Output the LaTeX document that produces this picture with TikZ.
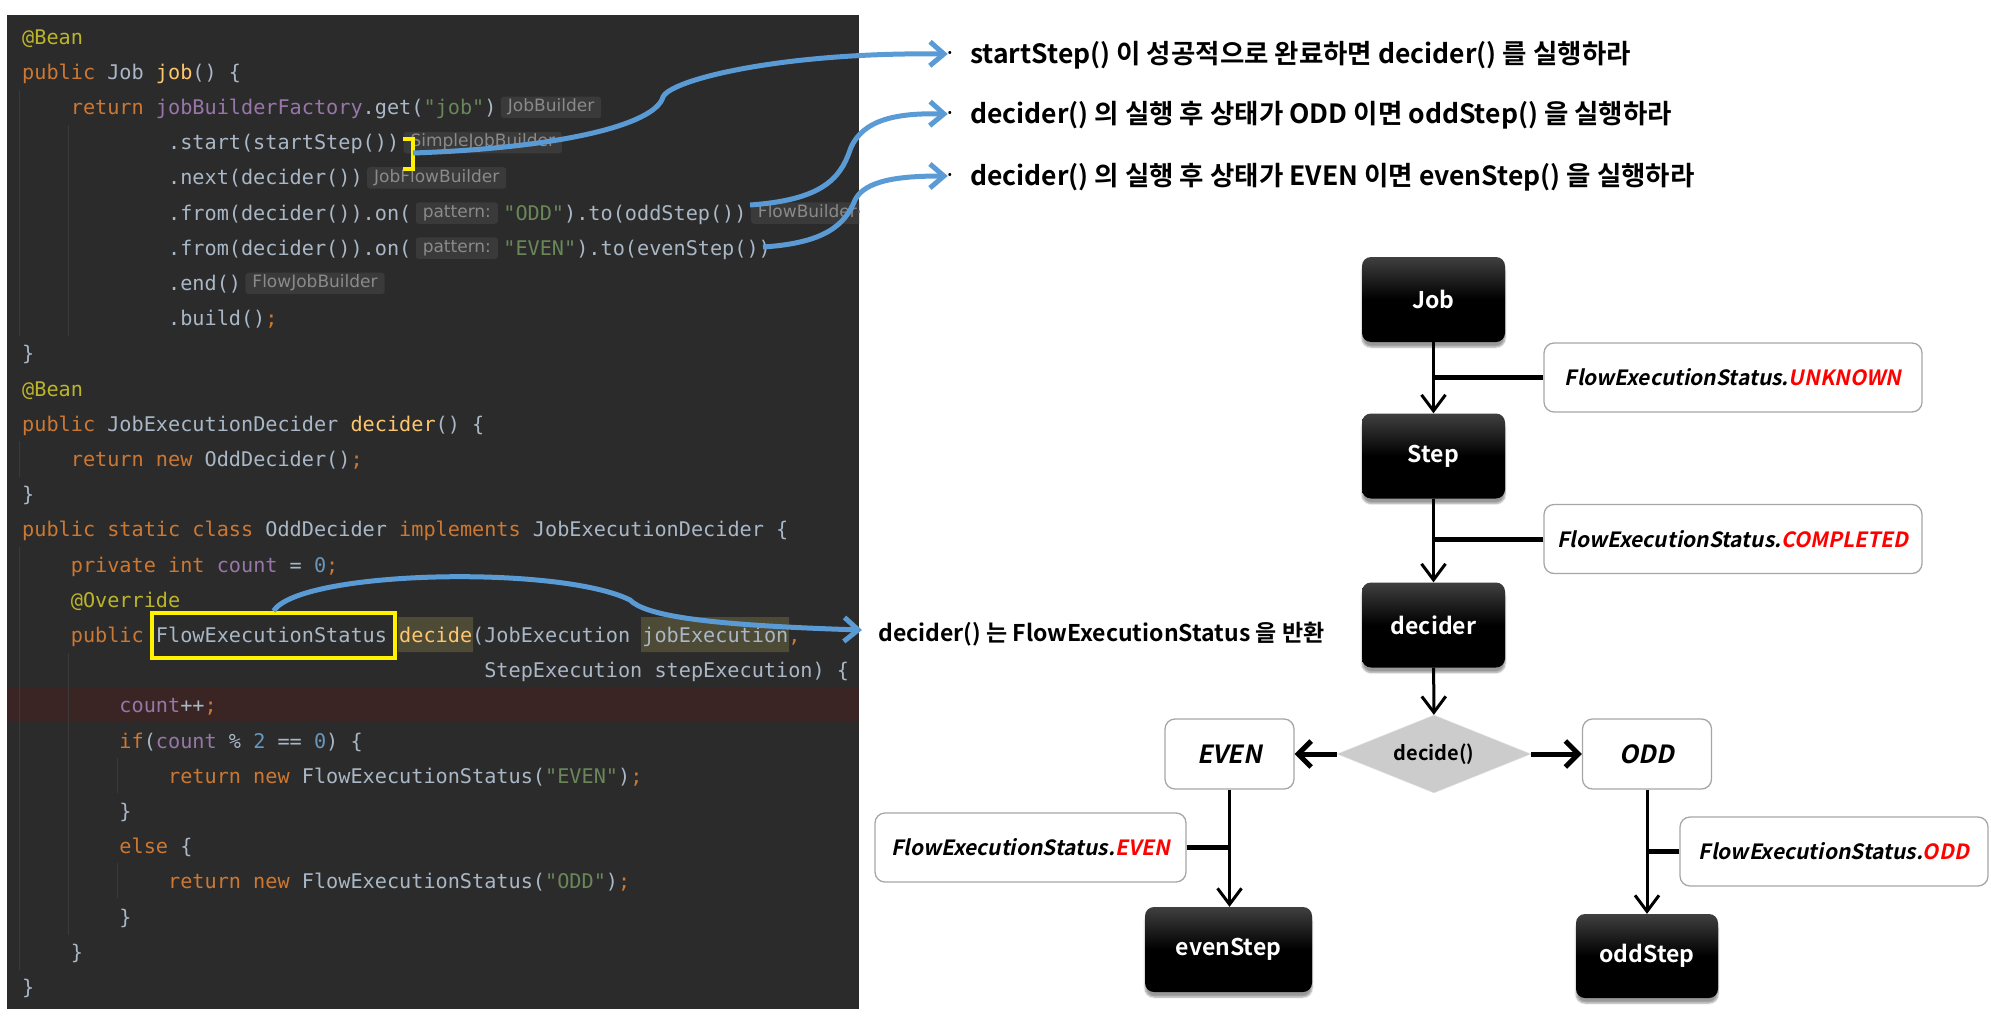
\documentclass[tikz,border=0pt]{standalone}
\usepackage{fontspec}
\usetikzlibrary{arrows.meta,calc,shapes.geometric,shadows.blur}
\newfontfamily\codefont{DejaVu Sans Mono}
\newfontfamily\hintfont{DejaVu Sans}
\newfontfamily\krfont[BoldFont={* Bold}]{Noto Sans CJK KR}
\newfontfamily\krslant[FakeSlant=0.2]{Noto Sans CJK KR Bold}
\definecolor{panelbg}{HTML}{2B2B2B}
\definecolor{plain}{HTML}{A9B7C6}
\definecolor{kwc}{HTML}{CC7832}
\definecolor{annc}{HTML}{BBB529}
\definecolor{fnc}{HTML}{FFC66D}
\definecolor{fldc}{HTML}{9876AA}
\definecolor{strc}{HTML}{6A8759}
\definecolor{numc}{HTML}{6897BB}
\definecolor{hintbg}{HTML}{3A3A3A}
\definecolor{hinttx}{HTML}{8A8A8A}
\definecolor{errbg}{HTML}{3A2424}
\definecolor{usebg}{HTML}{4D4A35}
\definecolor{guide}{HTML}{3A3A3A}
\definecolor{linkblue}{HTML}{5B9BD5}
\definecolor{boxline}{HTML}{A6A6A6}
\newcommand{\jkw}[1]{\textcolor{kwc}{#1}}
\newcommand{\jann}[1]{\textcolor{annc}{#1}}
\newcommand{\jfn}[1]{\textcolor{fnc}{#1}}
\newcommand{\jfld}[1]{\textcolor{fldc}{#1}}
\newcommand{\jstr}[1]{\textcolor{strc}{#1}}
\newcommand{\jnum}[1]{\textcolor{numc}{#1}}
% one line of code: name, row, column, text
\newcommand{\codeln}[4]{\node[code] (#1) at ({22+#3*12.16},{44+35.2*(#2-1)}) {#4};}
\begin{document}
\begin{tikzpicture}[x=1pt,y=-1pt,
  code/.style={anchor=base west, inner sep=0pt, text=plain, font=\codefont\fontsize{20.2}{24}\selectfont},
  hint/.style={anchor=west, fill=hintbg, rounded corners=3pt, text=hinttx, font=\hintfont\fontsize{17}{19}\selectfont, inner xsep=7pt, inner ysep=3pt, text height=12pt, text depth=3.5pt},
  blackbox/.style={rounded corners=9pt, top color=black!75, bottom color=black, middle color=black, text=white, minimum width=143pt, minimum height=85pt, font=\krfont\bfseries\fontsize{23}{27}\selectfont, blur shadow={shadow xshift=0pt, shadow yshift=-5pt, shadow blur steps=6}},
  lbl/.style={draw=boxline, line width=1.3pt, fill=white, rounded corners=10pt, minimum width=378pt, minimum height=69pt, font=\krslant\fontsize{21}{25}\selectfont},
  choice/.style={draw=boxline, line width=1.3pt, fill=white, rounded corners=10pt, minimum width=129pt, minimum height=70pt, font=\krslant\fontsize{25}{29}\selectfont},
  decshape/.style={diamond, aspect=2.5, inner sep=0pt, minimum width=194pt, minimum height=78pt, fill=black!20, draw=black!10, font=\krfont\bfseries\fontsize{20}{24}\selectfont},
  ktext/.style={anchor=west, inner sep=0pt, font=\krfont\bfseries\fontsize{26.5}{30}\selectfont},
  bul/.style={inner sep=0pt, font=\krfont\fontsize{12}{14}\selectfont},
  farrow/.style={line width=3pt, -{Straight Barb[length=16pt,width=24pt]}},
  harrow/.style={line width=5pt, -{Straight Barb[length=13pt,width=26pt]}},
  stub/.style={line width=5pt},
  blink/.style={draw=linkblue, line width=5pt, -{Straight Barb[length=14pt,width=24pt]}},
  ymark/.style={draw=yellow, line width=4pt}]
\useasboundingbox (0,0) rectangle (1991,1028);

% code panel
\fill[panelbg] (7,15) rectangle (859,1009);
\begin{scope}
  \clip (7,15) rectangle (859,1009);
  \fill[errbg] (7,688) rectangle (859,722);
  \fill[usebg] (398,617) rectangle (473,652) (641,617) rectangle (789,652);
  \draw[guide, line width=1pt] (19.5,90) -- (19.5,336) (68,125) -- (68,336)
    (19.5,441) -- (19.5,477) (19.5,547) -- (19.5,970) (68,653) -- (68,935)
    (117,758) -- (117,793) (117,863) -- (117,898);

  \codeln{L1}{1}{0}{\jann{@Bean}}
  \codeln{L2}{2}{0}{\jkw{public} Job \jfn{job}() \{}
  \codeln{L3}{3}{4}{\jkw{return} \jfld{jobBuilderFactory}.get(\jstr{"job"})}
  \codeln{L4}{4}{12}{.start(startStep())}
  \codeln{L5}{5}{12}{.next(decider())}
  \codeln{L6a}{6}{12}{.from(decider()).on(}
  \codeln{L7a}{7}{12}{.from(decider()).on(}
  \codeln{L8}{8}{12}{.end()}
  \codeln{L9}{9}{12}{.build()\jkw{;}}
  \codeln{L10}{10}{0}{\}}
  \codeln{L11}{11}{0}{\jann{@Bean}}
  \codeln{L12}{12}{0}{\jkw{public} JobExecutionDecider \jfn{decider}() \{}
  \codeln{L13}{13}{4}{\jkw{return new} OddDecider()\jkw{;}}
  \codeln{L14}{14}{0}{\}}
  \codeln{L15}{15}{0}{\jkw{public static class} OddDecider \jkw{implements} JobExecutionDecider \{}
  \codeln{L16}{16}{4}{\jkw{private int} \jfld{count} = \jnum{0}\jkw{;}}
  \codeln{L17}{17}{4}{\jann{@Override}}
  \codeln{L18}{18}{4}{\jkw{public} FlowExecutionStatus \jfn{decide}(JobExecution jobExecution\jkw{,}}
  \codeln{L19}{19}{38}{StepExecution stepExecution) \{}
  \codeln{L20}{20}{8}{\jfld{count}++\jkw{;}}
  \codeln{L21}{21}{8}{\jkw{if}(\jfld{count} \% \jnum{2} == \jnum{0}) \{}
  \codeln{L22}{22}{12}{\jkw{return new} FlowExecutionStatus(\jstr{"EVEN"})\jkw{;}}
  \codeln{L23}{23}{8}{\}}
  \codeln{L24}{24}{8}{\jkw{else} \{}
  \codeln{L25}{25}{12}{\jkw{return new} FlowExecutionStatus(\jstr{"ODD"})\jkw{;}}
  \codeln{L26}{26}{8}{\}}
  \codeln{L27}{27}{4}{\}}
  \codeln{L28}{28}{0}{\}}

  % inlay hints
  \node[hint] (h3) at ($(L3.base east)+(4,-7)$) {JobBuilder};
  \node[hint] (h4) at ($(L4.base east)+(4,-7)$) {SimpleJobBuilder};
  \node[hint] (h5) at ($(L5.base east)+(4,-7)$) {JobFlowBuilder};
  \node[hint] (p6) at ($(L6a.base east)+(4,-7)$) {pattern:};
  \node[code] (L6b) at ($(L6a.base -| p6.east)+(5,0)$) {\jstr{"ODD"}).to(oddStep())};
  \node[hint] (h6) at ($(L6b.base east)+(4,-7)$) {FlowBuilder<FlowJobBuilder>};
  \node[hint] (p7) at ($(L7a.base east)+(4,-7)$) {pattern:};
  \node[code] (L7b) at ($(L7a.base -| p7.east)+(5,0)$) {\jstr{"EVEN"}).to(evenStep())};
  \node[hint] (h8) at ($(L8.base east)+(4,-7)$) {FlowJobBuilder};
\end{scope}

% yellow marks
\draw[ymark] (403,139) -- (412.7,139) -- (412.7,168.7) -- (403,168.7);
\node[ymark, inner sep=0pt, minimum width=243pt, minimum height=45pt] (fesbox) at (273.5,635.5) {};
\coordinate (brk) at (413,153);
\coordinate (oddend) at (750,205);
\coordinate (evenend) at (763,247);
\coordinate (dtip) at (862,630);

% notes
\node[bul] (b1) at (950,54) {•};
\node[bul] (b2) at (950,114) {•};
\node[bul] (b3) at (950,176) {•};
\node[ktext] (k1) at (970,55) {startStep() 이 성공적으로 완료하면 decider() 를 실행하라};
\node[ktext] (k2) at (970,115) {decider() 의 실행 후 상태가 ODD 이면 oddStep() 을 실행하라};
\node[ktext] (k3) at (970,177) {decider() 의 실행 후 상태가 EVEN 이면 evenStep() 을 실행하라};
\node[ktext, font=\krfont\bfseries\fontsize{23}{27}\selectfont] (k4) at (878,634) {decider() 는 FlowExecutionStatus 을 반환};

\draw[blink] (brk) .. controls (560,148) and (655,125) .. (663,97) .. controls (670,80) and (780,52) .. (b1.west);
\draw[blink] (oddend) .. controls (820,200) and (840,180) .. (850,150) .. controls (862,118) and (900,113) .. (b2.west);
\draw[blink] (evenend) .. controls (825,243) and (845,225) .. (855,200) .. controls (865,180) and (900,176) .. (b3.west);
\draw[blink] (fesbox.north) .. controls (300,570) and (560,565) .. (630,600) .. controls (645,615) and (700,625) .. (dtip);

% flow
\node[blackbox] (job) at (1433.5,299.5) {Job};
\node[blackbox] (stepnode) at (1433.5,456) {Step};
\node[blackbox] (decider) at (1433.5,625) {decider};
\node[decshape] (dec) at (1434,754) {decide()};
\node[choice] (even) at (1229.5,754) {EVEN};
\node[choice] (odd) at (1647,754) {ODD};
\node[blackbox, minimum width=167pt] (evenstep) at (1228.5,949.5) {evenStep};
\node[blackbox, minimum width=142pt, minimum height=84pt] (oddstep) at (1647,956) {oddStep};
\node[lbl] (lunk) at (1733,377.5) {FlowExecutionStatus.\textcolor{red}{UNKNOWN}};
\node[lbl] (lcomp) at (1733,539) {FlowExecutionStatus.\textcolor{red}{COMPLETED}};
\node[lbl, minimum width=311pt] (leven) at (1030.5,847.5) {FlowExecutionStatus.\textcolor{red}{EVEN}};
\node[lbl, minimum width=308pt] (lodd) at (1834,851.5) {FlowExecutionStatus.\textcolor{red}{ODD}};

\draw[farrow] (job) -- (stepnode);
\draw[farrow] (stepnode) -- (decider);
\draw[farrow] (decider) -- (dec);
\draw[harrow] (dec) -- (even);
\draw[harrow] (dec) -- (odd);
\draw[farrow] (even.south) -- (even.south |- evenstep.north);
\draw[farrow] (odd) -- (oddstep);
\draw[stub] (lunk.west) -- (lunk.west -| job.south);
\draw[stub] (lcomp.west) -- (lcomp.west -| job.south);
\draw[stub] (leven.east) -- (leven.east -| even.south);
\draw[stub] (lodd.west) -- (lodd.west -| odd.south);
\end{tikzpicture}
\end{document}
